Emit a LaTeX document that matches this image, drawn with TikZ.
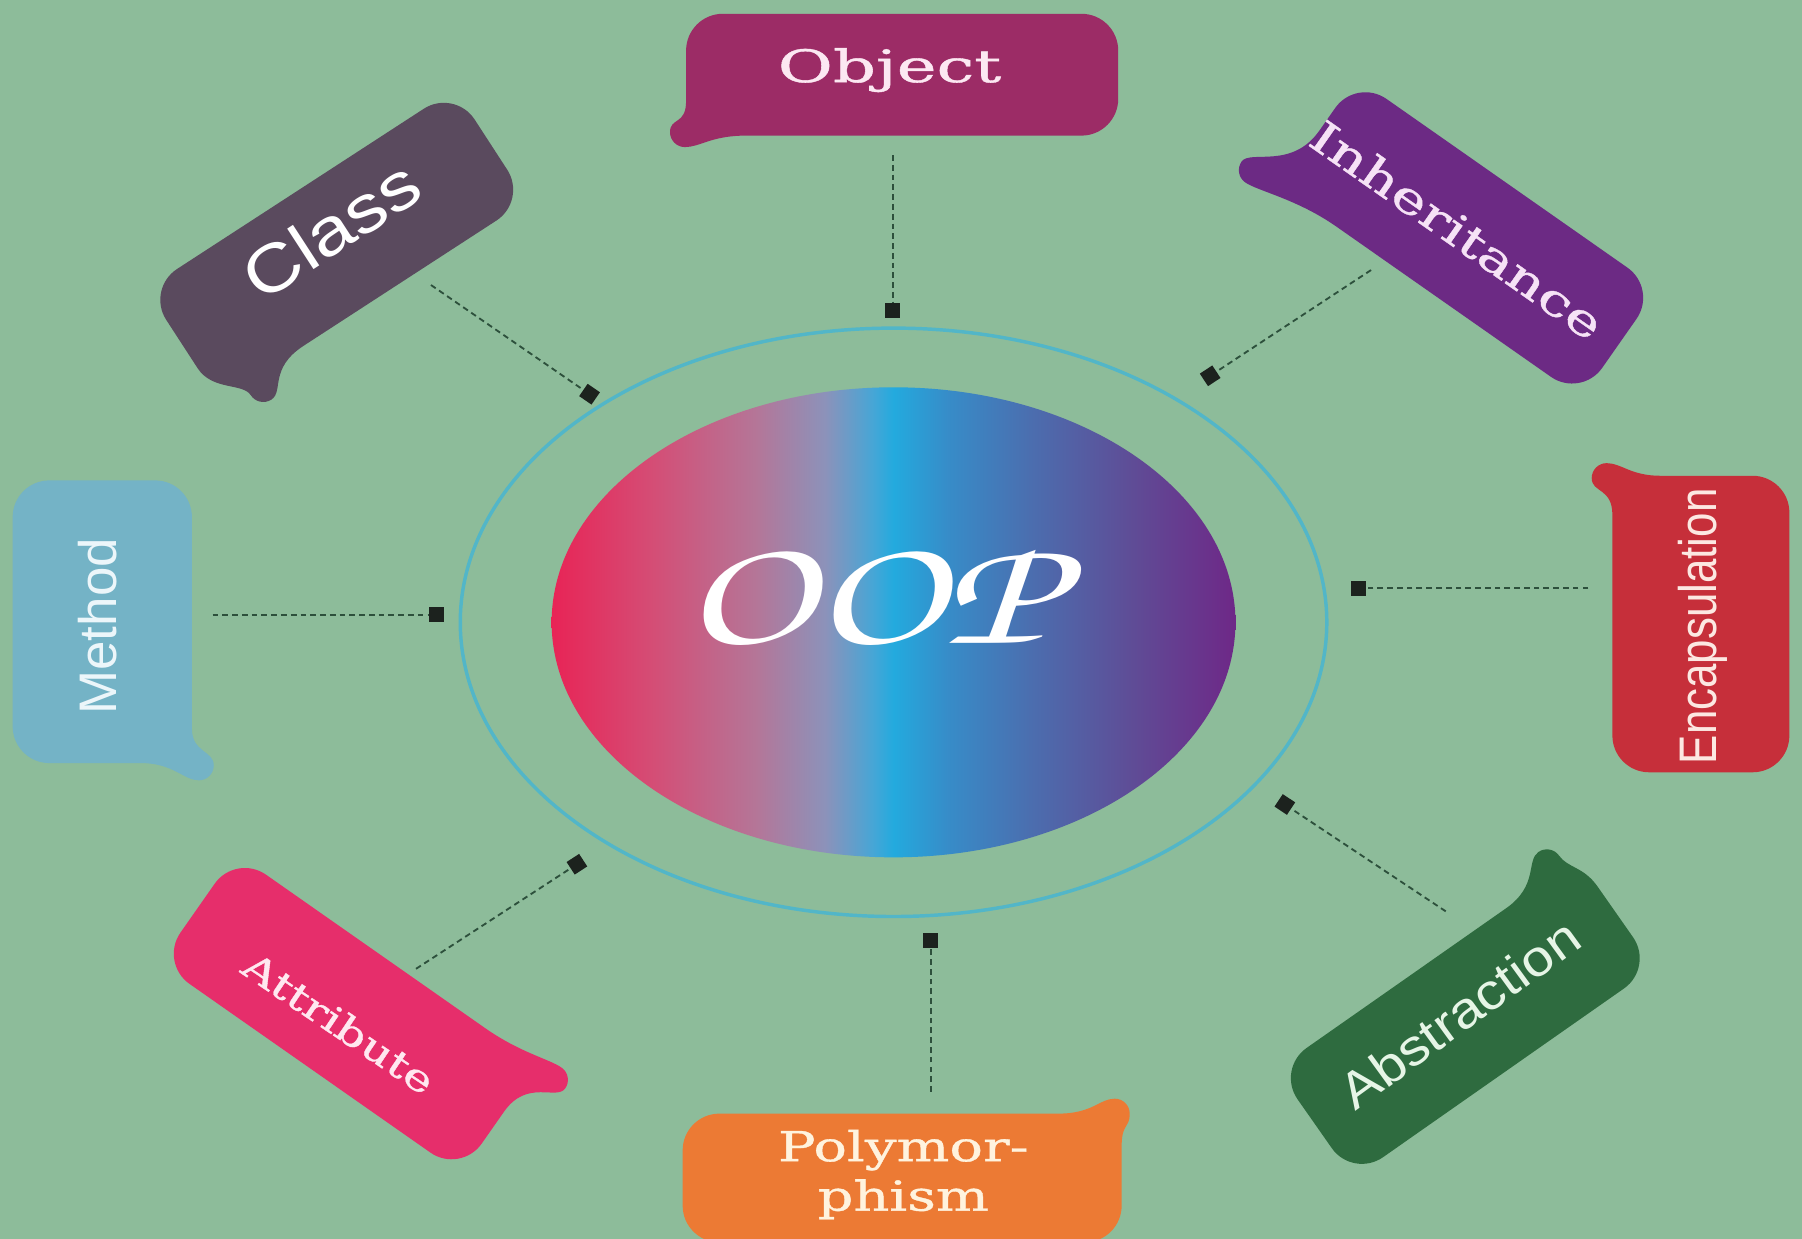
\documentclass[tikz,border=0pt]{standalone}
\usepackage{fontspec}
\setmainfont{Liberation Sans}
\newfontfamily\slabf[FakeBold=0.8]{DejaVu Serif}
\newfontfamily\sansf{Liberation Sans}
\usetikzlibrary{shapes.geometric}

\definecolor{bgc}{RGB}{141,188,154}
\definecolor{ringc}{RGB}{82,182,200}
\definecolor{dashc}{RGB}{45,80,60}
\definecolor{sqc}{RGB}{28,34,30}
\definecolor{objc}{RGB}{156,44,102}
\definecolor{classc}{RGB}{90,74,94}
\definecolor{inhc}{RGB}{108,42,132}
\definecolor{encc}{RGB}{198,47,58}
\definecolor{absc}{RGB}{46,107,63}
\definecolor{polyc}{RGB}{236,122,52}
\definecolor{attc}{RGB}{230,46,107}
\definecolor{metc}{RGB}{116,179,198}
\definecolor{objt}{RGB}{252,232,242}
\definecolor{inht}{RGB}{246,226,246}
\definecolor{enct}{RGB}{252,232,226}
\definecolor{abst}{RGB}{230,245,230}
\definecolor{polyt}{RGB}{255,243,222}
\definecolor{attt}{RGB}{255,232,240}
\definecolor{mett}{RGB}{236,246,250}
\definecolor{g0}{RGB}{232,36,86}
\definecolor{g1}{RGB}{212,78,118}
\definecolor{g2}{RGB}{180,118,152}
\definecolor{g3}{RGB}{140,146,186}
\definecolor{g4}{RGB}{70,166,214}
\definecolor{g5}{RGB}{35,170,222}
\definecolor{g6}{RGB}{55,140,200}
\definecolor{g7}{RGB}{75,110,175}
\definecolor{g8}{RGB}{95,76,150}
\definecolor{g9}{RGB}{110,40,135}

\pgfdeclarehorizontalshading{oopgrad}{100bp}{color(0bp)=(g0); color(25bp)=(g0); color(32.5bp)=(g1); color(40bp)=(g2); color(45bp)=(g3); color(48.5bp)=(g4); color(50bp)=(g5); color(54bp)=(g6); color(60bp)=(g7); color(67.5bp)=(g8); color(75bp)=(g9); color(100bp)=(g9)}

% a, b, tx, ty, t1, t2, colour  (corner radius 32, tip radius 13)
\newcommand\bubble[7]{%
  \fill[#7] (-#1,{#2-32}) arc[start angle=180,end angle=90,radius=32pt]
    -- ({#1-32},#2) arc[start angle=90,end angle=0,radius=32pt]
    -- (#1,{-#2+32}) arc[start angle=0,end angle=-90,radius=32pt]
    -- ({-#1+#5},-#2)
    .. controls ({-#1+0.5*#5-0.3*(#3)},-#2) and ({-#1-(#3)+26},{-#2-(#4)}) .. ({-#1-(#3)+13},{-#2-(#4)})
    arc[start angle=270,end angle=180,radius=13pt]
    .. controls ({-#1-(#3)},{-#2-(#4)+26}) and (-#1,{-#2+0.3*#6}) .. (-#1,{-#2+#6})
    -- cycle;}

\tikzset{
  conn/.style={draw=dashc, line width=1.6pt, dash pattern=on 5pt off 3.5pt},
  sq/.style={fill=sqc, minimum size=13pt, inner sep=0pt, rectangle},
  lbl/.style={text=white, inner sep=0pt},
  ringline/.style={draw=ringc, line width=3pt},
}

\begin{document}
\begin{tikzpicture}[x=1pt,y=1pt]
\useasboundingbox (0,0) rectangle (1568,-1078);
\fill[bgc] (0,0) rectangle (1568,-1078);

% ring and centre
\draw[ringline] (777.5,-541.5) ellipse [x radius=377pt, y radius=256pt];
\node[ellipse, shade, shading=oopgrad, minimum width=595pt, minimum height=409pt, inner sep=0pt] (oop) at (777.5,-541.5) {};
\node[text=white, inner sep=0pt, xscale=1.4] (ooptext) at (757,-519)
  {\fontencoding{T1}\fontfamily{pzc}\fontseries{m}\fontshape{it}\fontsize{135}{140}\selectfont OOP};

% bubbles
\begin{scope}[shift={(785,-65)}]\bubble{188}{53}{14}{10}{52}{30}{objc}\end{scope}
\begin{scope}[shift={(293,-213)},rotate=33]\bubble{160}{58}{-26}{24}{88}{34}{classc}\end{scope}
\begin{scope}[shift={(1278,-207)},rotate=-35]\bubble{160}{58}{40}{14}{60}{60}{inhc}\end{scope}
\begin{scope}[shift={(1480,-543)},yscale=-1]\bubble{77}{129}{18}{11}{42}{34}{encc}\end{scope}
\begin{scope}[shift={(1275,-886)},rotate=35,xscale=-1,yscale=-1]\bubble{160}{58}{-12}{24}{76}{30}{absc}\end{scope}
\begin{scope}[shift={(785,-1025)},xscale=-1,yscale=-1]\bubble{191}{56}{7}{13}{55}{28}{polyc}\end{scope}
\begin{scope}[shift={(303,-882)},rotate=-35,xscale=-1,yscale=-1]\bubble{160}{58}{32}{10}{55}{50}{attc}\end{scope}
\begin{scope}[shift={(89,-541)},xscale=-1]\bubble{78}{123}{19}{15}{44}{30}{metc}\end{scope}

% labels
\node[lbl, text=objt, xscale=1.5, font=\slabf\fontsize{39}{44}\selectfont] (tobj) at (774,-61) {Object};
\node[lbl, rotate=33, xscale=1.18, font=\sansf\fontsize{58}{66}\selectfont] (tclass) at (288,-200) {Class};
\node[lbl, text=inht, rotate=-35, xscale=1.35, font=\slabf\fontsize{38}{44}\selectfont] (tinh) at (1268,-200) {Inheritance};
\node[lbl, text=enct, rotate=90, xscale=0.83, font=\sansf\fontsize{46}{52}\selectfont] (tenc) at (1482,-545) {Encapsulation};
\node[lbl, text=abst, rotate=36, xscale=1.12, font=\sansf\fontsize{44}{50}\selectfont] (tabs) at (1270,-882) {Abstraction};
\node[lbl, text=polyt, xscale=1.35, align=center, font=\slabf\fontsize{36}{43}\selectfont] (tpoly) at (786,-1022) {Polymor-\\phism};
\node[lbl, text=attt, rotate=-34, xscale=1.32, font=\slabf\fontsize{32}{40}\selectfont] (tatt) at (295,-890) {Attribute};
\node[lbl, text=mett, rotate=90, font=\sansf\fontsize{46}{52}\selectfont] (tmet) at (85,-545) {Method};

% connector ends
\coordinate (cobj) at (777,-135);
\coordinate (cclass) at (375,-248);
\coordinate (cinh) at (1193,-235);
\coordinate (cenc) at (1382,-512);
\coordinate (cabs) at (1258,-793);
\coordinate (cpoly) at (810,-950);
\coordinate (catt) at (362,-843);
\coordinate (cmet) at (185,-535);

\node[sq] (sobj) at (777,-270) {};
\node[sq, rotate=-34.5] (sclass) at (513,-343) {};
\node[sq, rotate=33.3] (sinh) at (1053,-327) {};
\node[sq] (senc) at (1182,-512) {};
\node[sq, rotate=-33.6] (sabs) at (1118,-700) {};
\node[sq] (spoly) at (810,-818) {};
\node[sq, rotate=33] (satt) at (502,-752) {};
\node[sq] (smet) at (380,-535) {};

\draw[conn] (cobj) -- (sobj);
\draw[conn] (cclass) -- (sclass);
\draw[conn] (cinh) -- (sinh);
\draw[conn] (cenc) -- (senc);
\draw[conn] (cabs) -- (sabs);
\draw[conn] (cpoly) -- (spoly);
\draw[conn] (catt) -- (satt);
\draw[conn] (cmet) -- (smet);
\end{tikzpicture}
\end{document}
